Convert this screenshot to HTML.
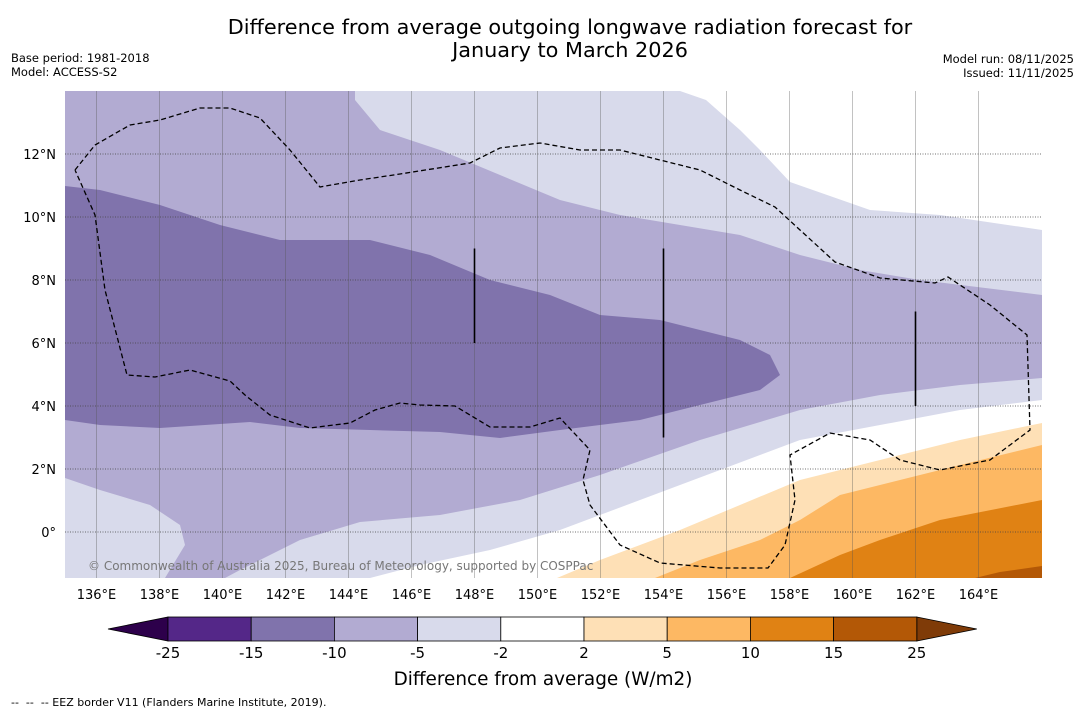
<!DOCTYPE html>
<html><head><meta charset="utf-8"><style>
body{margin:0;background:#fff;font-family:"Liberation Sans","DejaVu Sans",sans-serif}
svg text{font-family:"DejaVu Sans","Liberation Sans",sans-serif}
</style></head><body>
<svg id="c" width="1085" height="713" xmlns="http://www.w3.org/2000/svg">
<text x="570" y="34" font-size="20.8" text-anchor="middle">Difference from average outgoing longwave radiation forecast for</text>
<text x="570" y="57" font-size="20.8" text-anchor="middle">January to March 2026</text>
<text x="11" y="62" font-size="11.5">Base period: 1981-2018</text>
<text x="11" y="76" font-size="11.5">Model: ACCESS-S2</text>
<text x="1074" y="63" font-size="11.5" text-anchor="end">Model run: 08/11/2025</text>
<text x="1074" y="77" font-size="11.5" text-anchor="end">Issued: 11/11/2025</text>
<g id="map"></g>
<g id="cb"></g>
<text x="543" y="685" font-size="18.4" text-anchor="middle">Difference from average (W/m2)</text>
<text x="11" y="706" font-size="11" style="white-space:pre">--  --  -- EEZ border V11 (Flanders Marine Institute, 2019).</text>
</svg>
<script>
const lonTicks=[136,138,140,142,144,146,148,150,152,154,156,158,160,162,164];
const latTicks=[12,10,8,6,4,2,0];
const levels=[-25,-15,-10,-5,-2,2,5,10,15,25];
const colors=["#542788","#8073ac","#b2abd2","#d8daeb","#ffffff","#fee0b6","#fdb863","#e08214","#b35806"];
// contour regions as [lon,lat] (pixel-read approximations)
const LX=65,RX=1042,TY=91,BY=578;
const x=lon=>65+(lon-135)*31.5, y=lat=>91+(14-lat)*31.5;
const ix=p=>135+(p-65)/31.5, iy=p=>14-(p-91)/31.5;
const P=a=>a.map(([px,py])=>[ix(px),iy(py)]);
const regionLe2=P([[65,91],[680,91],[706,100],[740,130],[760,150],[790,182],[870,210],[940,215],[1042,230],[1042,400],[960,410],[880,425],[800,440],[720,470],[640,500],[560,530],[490,550],[420,565],[370,578],[65,578]]);
const regionLe5=P([[65,91],[355,91],[355,100],[380,130],[440,150],[500,175],[560,200],[620,215],[680,225],[740,235],[800,255],[860,270],[920,280],[1042,295],[1042,378],[960,385],[880,395],[800,410],[700,440],[600,475],[520,500],[440,515],[360,522],[300,540],[240,570],[225,578],[165,578],[185,545],[180,525],[150,505],[100,490],[65,478]]);
const regionLe10=P([[65,186],[100,190],[160,205],[220,225],[280,240],[370,240],[430,255],[490,280],[550,295],[600,315],[660,320],[740,340],[770,355],[780,375],[760,390],[700,405],[640,420],[560,430],[500,438],[440,432],[370,430],[300,428],[250,422],[160,428],[100,425],[65,420]]);
const regionGe2=P([[557,578],[600,560],[680,530],[740,505],[800,480],[840,470],[900,455],[960,440],[1042,423],[1042,578]]);
const regionGe5=P([[655,578],[700,560],[760,540],[800,520],[840,495],[880,485],[940,470],[1042,445],[1042,578]]);
const regionGe10=P([[790,578],[840,555],[880,540],[940,520],[1042,500],[1042,578]]);
const regionGe15=P([[975,578],[1000,572],[1042,566],[1042,578]]);
const eez=P([[75,170],[95,145],[130,125],[160,120],[200,108],[230,108],[260,118],[290,150],[320,187],[360,180],[400,174],[470,163],[500,148],[540,143],[580,150],[620,150],[660,160],[700,170],[740,190],[775,207],[800,230],[835,262],[880,278],[935,283],[948,277],[990,305],[1027,335],[1030,430],[990,460],[940,470],[900,460],[870,440],[830,433],[790,455],[795,500],[785,545],[768,568],[720,568],[660,563],[620,545],[590,505],[583,480],[590,450],[560,418],[530,427],[490,427],[455,406],[420,405],[400,403],[375,410],[350,423],[310,428],[270,415],[245,395],[230,381],[190,370],[155,377],[127,375],[105,290],[95,215],[75,170]]);
const segs=[[148,9,6],[154,9,3],[162,7,4]];
const NS="http://www.w3.org/2000/svg";
function mk(t,a,p){const e=document.createElementNS(NS,t);for(const k in a)e.setAttribute(k,a[k]);p.appendChild(e);return e;}
const map=document.getElementById('map');
const clip=mk('clipPath',{id:'mc'},map);mk('rect',{x:LX,y:TY,width:RX-LX,height:BY-TY},clip);
const g=mk('g',{'clip-path':'url(#mc)'},map);
const bg=mk('rect',{x:LX,y:TY,width:RX-LX,height:BY-TY,fill:'#fff'},g);


const pts=a=>a.map(p=>x(p[0]).toFixed(1)+','+y(p[1]).toFixed(1)).join(' ');
[[regionLe2,colors[3],'region-below-minus2'],[regionLe5,colors[2],'region-below-minus5'],[regionLe10,colors[1],'region-below-minus10'],[regionGe2,colors[5],'region-above-2'],[regionGe5,colors[6],'region-above-5'],[regionGe10,colors[7],'region-above-10'],[regionGe15,colors[8],'region-above-15']].forEach(([r,c,n])=>{
 const e=mk('polygon',{points:pts(r),fill:c},g);
 
 
});
lonTicks.forEach(l=>{
 const e=mk('line',{x1:x(l),x2:x(l),y1:TY,y2:BY,stroke:'#555','stroke-width':0.6,'stroke-opacity':0.6},g);
 
 
 const t=mk('text',{x:x(l),y:599,'font-size':13,'text-anchor':'middle'},map);t.textContent=l+'°E';
 
 
});
latTicks.forEach(l=>{
 const e=mk('line',{x1:LX,x2:RX,y1:y(l),y2:y(l),stroke:'#444','stroke-width':0.8,'stroke-dasharray':'1,1.5'},g);
 
 
 const t=mk('text',{x:56,y:y(l)+5,'font-size':13,'text-anchor':'end'},map);t.textContent=(l==0?'0°':l+'°N');
 
 
});
const ez=mk('polyline',{points:pts(eez),fill:'none',stroke:'#000','stroke-width':1.3,'stroke-dasharray':'5,3'},g);


segs.forEach(s=>{const e=mk('line',{x1:x(s[0]),x2:x(s[0]),y1:y(s[1]),y2:y(s[2]),stroke:'#000','stroke-width':1.6},g);
 
 });
const wm=mk('text',{x:88,y:570,'font-size':12,fill:'#777'},g);wm.textContent='© Commonwealth of Australia 2025, Bureau of Meteorology, supported by COSPPac';


// colorbar
const cb=document.getElementById('cb');
const bx=i=>168+i*83.2, cy=617, ch=24;
const lt=mk('polygon',{points:`108,${cy+ch/2} 168,${cy} 168,${cy+ch}`,fill:'#2d004b',stroke:'#000','stroke-width':0.8},cb);


const rt=mk('polygon',{points:`${bx(9)},${cy} ${bx(9)+60},${cy+ch/2} ${bx(9)},${cy+ch}`,fill:'#7f3b08',stroke:'#000','stroke-width':0.8},cb);


colors.forEach((c,i)=>{const e=mk('rect',{x:bx(i),y:cy,width:83.2,height:ch,fill:c,stroke:'#000','stroke-width':0.8},cb);
 
 });
levels.forEach((v,i)=>{const t=mk('text',{x:bx(i),y:658,'font-size':15,'text-anchor':'middle'},cb);t.textContent=v;
 
 });
</script>
</body></html>
